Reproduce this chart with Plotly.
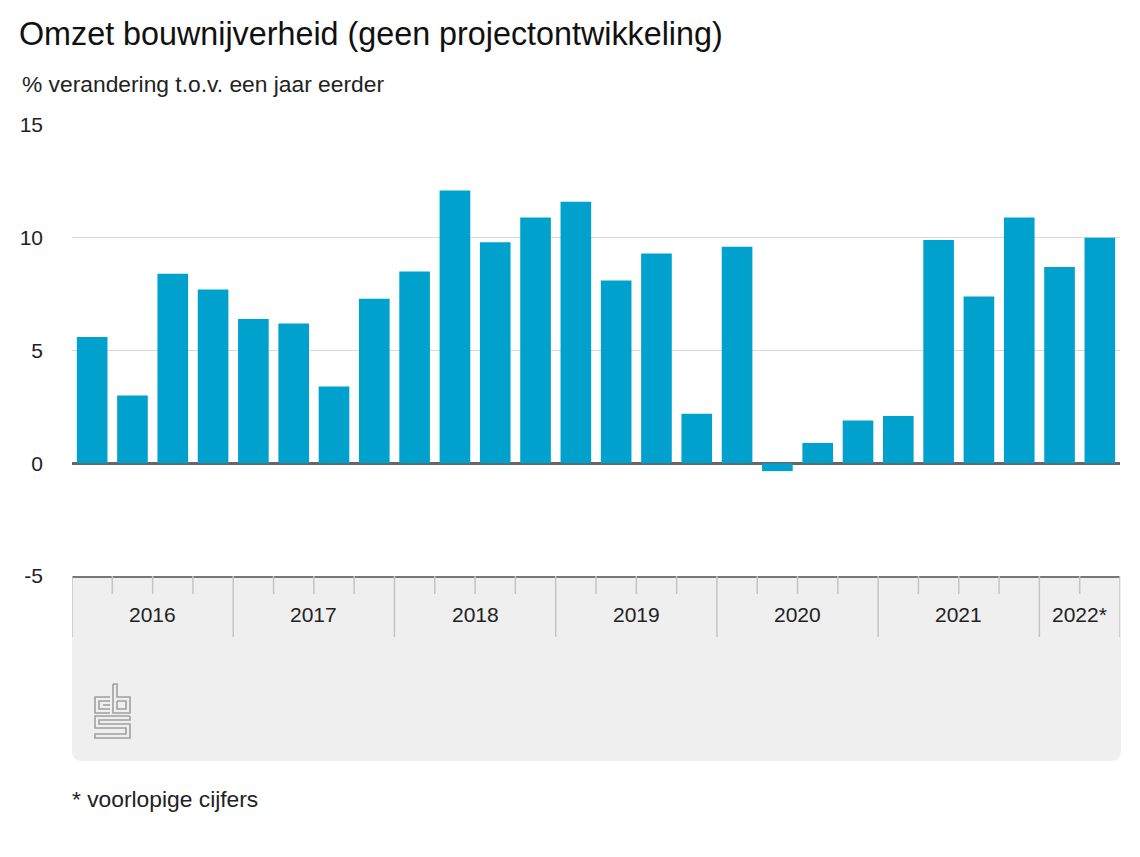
import plotly.graph_objects as go

# ---- data ----
years = ["2016", "2017", "2018", "2019", "2020", "2021", "2022*"]
quarters_per_year = [4, 4, 4, 4, 4, 4, 2]
values = [5.6, 3.0, 8.4, 7.7,
          6.4, 6.2, 3.4, 7.3,
          8.5, 12.1, 9.8, 10.9,
          11.6, 8.1, 9.3, 2.2,
          9.6, -0.35, 0.9, 1.9,
          2.1, 9.9, 7.4, 10.9,
          8.7, 10.0]
y_ticks = [-5, 0, 5, 10, 15]

title_text = "Omzet bouwnijverheid (geen projectontwikkeling)"
subtitle_text = "% verandering t.o.v. een jaar eerder"
footnote_text = "* voorlopige cijfers"

# ---- layout geometry (page pixels; the page body has an 8px margin) ----
OFF = 8
PAGE_W, PAGE_H = 1140, 857
W, H = PAGE_W - 2 * OFF, PAGE_H - 2 * OFF
L, R = 72, 1120
T, B = 125, 576
FONT = "Liberation Sans, Arial, sans-serif"
BLUE = "#00a1cd"
TXT = "#222"


def xp(px):
    return (px - L) / (R - L)


def yp(py):
    return (B - py) / (B - T)


x = list(range(len(values)))

fig = go.Figure()
fig.add_trace(go.Bar(x=x, y=values, marker=dict(color=BLUE, line=dict(width=0)),
                     hoverinfo="y"))

shapes = []
# gray box below the plot with rounded bottom corners
bx0, bx1, by0, by1, r = 72, 1121, 576, 761, 10
path = (f"M {xp(bx0)},{yp(by0)} L {xp(bx1)},{yp(by0)} "
        f"L {xp(bx1)},{yp(by1 - r)} Q {xp(bx1)},{yp(by1)} {xp(bx1 - r)},{yp(by1)} "
        f"L {xp(bx0 + r)},{yp(by1)} Q {xp(bx0)},{yp(by1)} {xp(bx0)},{yp(by1 - r)} Z")
shapes.append(dict(type="path", xref="paper", yref="paper", path=path,
                   fillcolor="#efefef", line=dict(width=0), layer="below"))

# year dividers and quarter ticks
annotations = []
start = 0
DIV = "#c4c4c4"
for yr, n in zip(years, quarters_per_year):
    shapes.append(dict(type="line", xref="x", yref="paper", x0=start - 0.5, x1=start - 0.5,
                       y0=0, y1=yp(637), line=dict(color=DIV, width=1.5)))
    for q in range(1, n):
        shapes.append(dict(type="line", xref="x", yref="paper",
                           x0=start + q - 0.5, x1=start + q - 0.5,
                           y0=0, y1=yp(594), line=dict(color=DIV, width=1.5)))
    annotations.append(dict(x=start + (n - 1) / 2, y=yp(614), xref="x", yref="paper",
                            text=yr, showarrow=False, xanchor="center", yanchor="middle",
                            font=dict(family=FONT, size=21, color=TXT)))
    start += n
shapes.append(dict(type="line", xref="x", yref="paper", x0=start - 0.5, x1=start - 0.5,
                   y0=0, y1=yp(637), line=dict(color=DIV, width=1.5)))

# CBS logo (simple line drawing)
LOGO = "#a0a0a0"
ox, oy = 95, 684


def lp(points):
    s = ""
    for i, (a, b) in enumerate(points):
        s += ("M " if i == 0 else "L ") + f"{xp(ox + a)},{yp(oy + b)} "
    return s


logo_paths = [
    # c
    [(15, 13), (0, 13), (0, 29), (15, 29)],
    [(15, 17), (4, 17), (4, 25), (15, 25)],
    [(15, 21), (8, 21)],
    # b
    [(18, 0), (18, 29), (35, 29), (35, 13), (22, 13), (22, 0), (18, 0)],
    [(22, 17), (31, 17), (31, 25), (22, 25), (22, 17)],
    # S
    [(35, 32), (0, 32), (0, 44), (31, 44), (31, 50), (0, 50), (0, 54), (35, 54),
     (35, 40), (4, 40), (4, 36), (35, 36), (35, 32)],
]
for pts in logo_paths:
    shapes.append(dict(type="path", xref="paper", yref="paper", path=lp(pts),
                       line=dict(color=LOGO, width=1.6)))

# subtitle, footnote
annotations.append(dict(x=xp(19.5), y=yp(84), xref="paper", yref="paper",
                        text=subtitle_text, showarrow=False, xanchor="left", yanchor="middle",
                        font=dict(family=FONT, size=22.8, color=TXT)))
annotations.append(dict(x=xp(70), y=yp(799), xref="paper", yref="paper",
                        text=footnote_text, showarrow=False, xanchor="left", yanchor="middle",
                        font=dict(family=FONT, size=22.8, color=TXT)))

fig.update_layout(
    width=W, height=H,
    margin=dict(l=L - OFF, r=PAGE_W - OFF - R, t=T - OFF, b=PAGE_H - OFF - B, pad=0),
    paper_bgcolor="white", plot_bgcolor="white",
    title=dict(text=title_text, x=(19 - OFF) / W, xanchor="left",
               y=1 - (33.5 - OFF) / H, yanchor="middle",
               font=dict(family=FONT, size=32.3, color="#111")),
    showlegend=False,
    bargap=0.24,
    xaxis=dict(range=[-0.5, len(values) - 0.5], showticklabels=False, showgrid=False,
               zeroline=False, showline=True, linecolor="#777", linewidth=2,
               ticks="", fixedrange=True),
    yaxis=dict(range=[-5, 15], tickvals=y_ticks, ticktext=[str(v) for v in y_ticks],
               showgrid=True, gridcolor="#d9d9d9", gridwidth=1,
               zeroline=True, zerolinecolor="#666", zerolinewidth=3,
               showline=False, ticks="", ticklabelstandoff=28,
               tickfont=dict(family=FONT, size=21, color=TXT), fixedrange=True),
    shapes=shapes,
    annotations=annotations,
    font=dict(family=FONT),
)

fig.write_html("out.html")
